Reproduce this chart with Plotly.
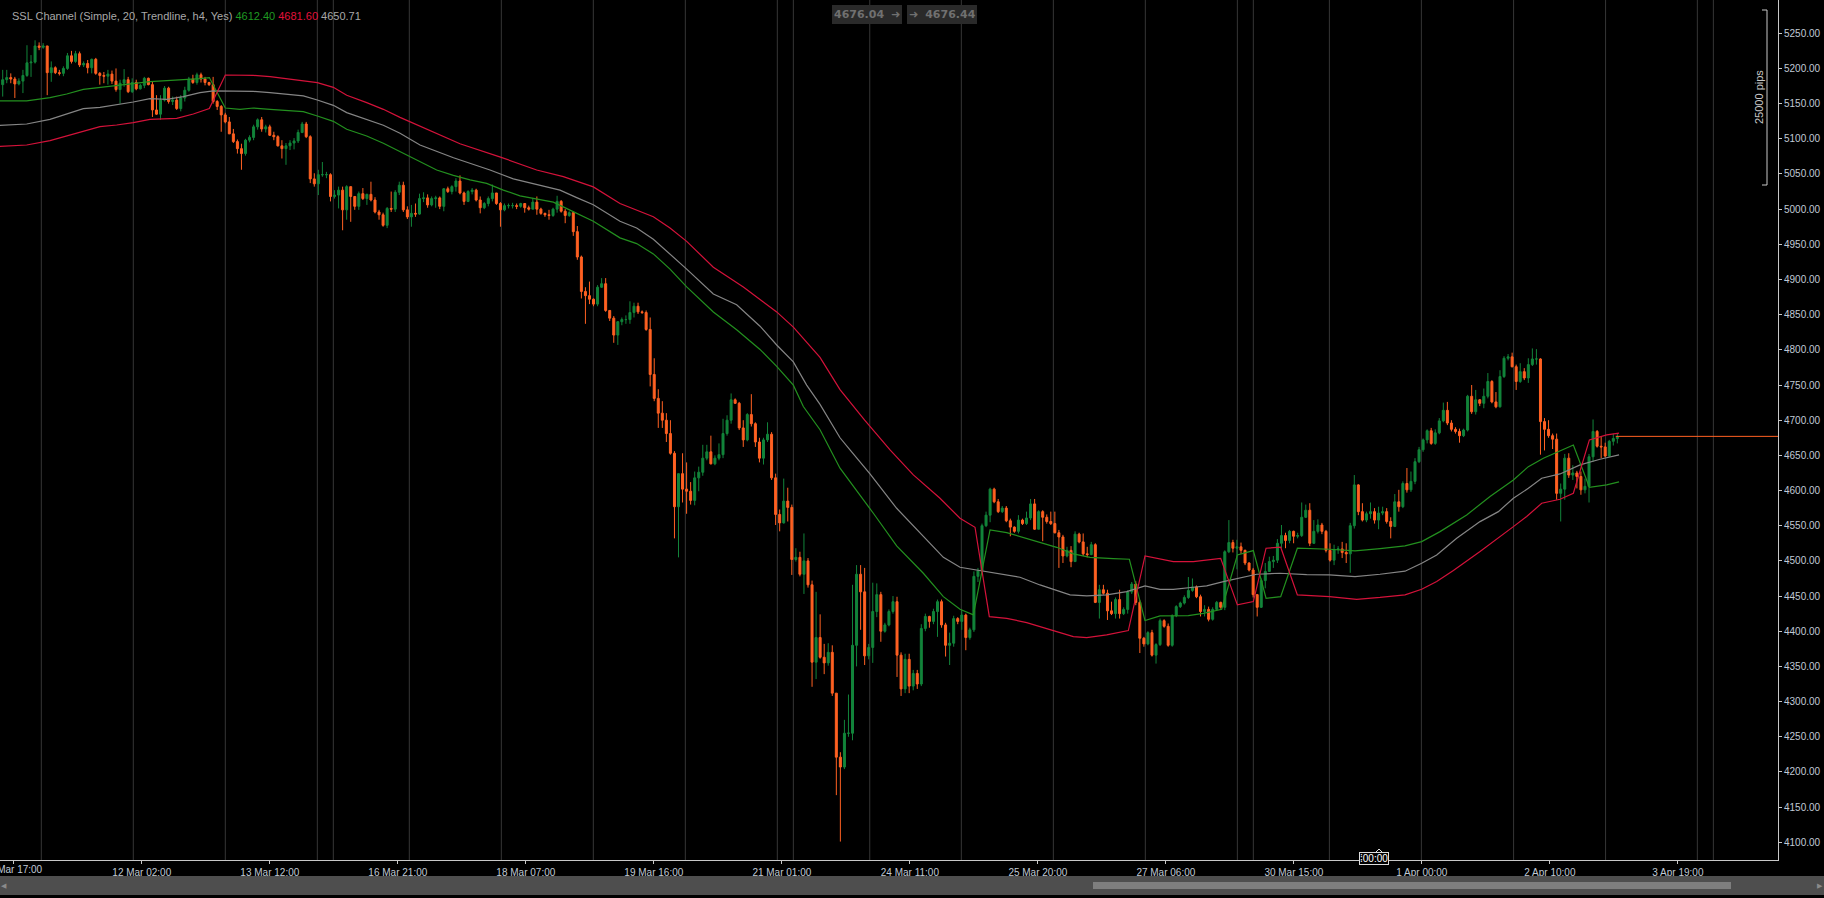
import plotly.graph_objects as go

# ---------------- data ----------------
open0 = 5177
close = [
5184,5187,5185,5178,5182,5190,5208,5209,5232,5230,
5232,5194,5201,5194,5193,5200,5218,5210,5221,5205,
5207,5201,5213,5193,5190,5189,5192,5182,5170,5179,
5184,5167,5180,5171,5176,5186,5177,5141,5135,5155,
5172,5153,5155,5143,5158,5169,5185,5180,5191,5185,
5180,5177,5153,5146,5134,5124,5107,5096,5086,5079,
5098,5102,5117,5127,5114,5117,5105,5103,5090,5086,
5090,5094,5097,5109,5121,5103,5043,5036,5049,5049,
5049,5018,5020,5027,4999,5032,5018,5004,5022,5015,
5021,5013,4996,4992,4977,5001,5000,5024,5034,4999,
4989,4994,4993,5015,5016,5006,5015,5016,5004,5029,
5025,5032,5040,5023,5011,5025,5027,5013,5002,5008,
5015,5023,5008,4999,5005,5005,5005,5004,5008,5002,
5000,5010,5000,4994,4992,4991,5000,5011,4997,4991,
4995,4968,4932,4883,4877,4872,4865,4889,4894,4856,
4845,4821,4840,4843,4843,4853,4862,4854,4853,4829,
4765,4731,4710,4700,4681,4653,4577,4624,4602,4599,
4586,4618,4626,4646,4655,4638,4646,4651,4681,4700,
4729,4724,4689,4672,4708,4695,4669,4646,4672,4680,
4618,4566,4554,4585,4576,4502,4505,4481,4500,4466,
4356,4391,4363,4355,4370,4312,4221,4207,4255,4255,
4380,4481,4456,4365,4377,4428,4452,4400,4409,4428,
4442,4366,4318,4360,4322,4340,4325,4404,4421,4414,
4428,4442,4409,4380,4383,4418,4414,4423,4391,4402,
4478,4486,4550,4565,4602,4584,4570,4575,4557,4548,
4542,4558,4553,4561,4581,4545,4570,4562,4556,4553,
4540,4534,4507,4515,4499,4538,4527,4510,4509,4523,
4441,4459,4454,4429,4425,4445,4425,4431,4456,4467,
4441,4390,4382,4398,4366,4381,4415,4407,4380,4422,
4435,4440,4448,4458,4463,4449,4428,4431,4417,4431,
4441,4434,4513,4526,4518,4520,4515,4497,4487,4452,
4434,4472,4485,4499,4501,4525,4536,4529,4542,4535,
4536,4562,4572,4525,4542,4551,4542,4515,4501,4516,
4517,4512,4510,4550,4608,4570,4558,4567,4570,4558,
4568,4570,4556,4549,4584,4577,4610,4601,4613,4641,
4658,4672,4685,4667,4682,4699,4714,4696,4687,4684,
4678,4686,4734,4712,4729,4724,4734,4755,4726,4719,
4762,4788,4790,4776,4755,4769,4760,4779,4787,4787,
4698,4687,4678,4673,4596,4602,4646,4622,4625,4620,
4601,4606,4648,4684,4663,4662,4649,4670,4674,4676]

high = [
5198,5198,5193,5188,5186,5198,5233,5219,5240,5237,
5236,5232,5210,5203,5198,5203,5222,5225,5225,5224,
5210,5212,5214,5215,5195,5195,5198,5197,5200,5184,
5199,5188,5186,5184,5178,5188,5187,5181,5162,5162,
5175,5174,5160,5160,5162,5174,5188,5191,5194,5194,
5188,5181,5188,5155,5148,5137,5131,5114,5099,5093,
5100,5105,5120,5129,5131,5120,5120,5110,5105,5098,
5094,5098,5101,5113,5124,5124,5105,5051,5056,5067,
5053,5051,5027,5032,5032,5034,5027,5018,5025,5030,
5022,5039,5017,4999,4995,5003,5025,5027,5039,5039,
5004,5006,5008,5022,5024,5021,5018,5019,5018,5030,
5032,5034,5044,5048,5025,5027,5030,5029,5018,5010,
5018,5035,5021,5010,5008,5008,5009,5008,5009,5008,
5005,5016,5018,5002,4995,4999,5002,5019,5013,5000,
4997,4997,4976,4934,4889,4897,4873,4892,4902,4902,
4856,4848,4841,4846,4849,4869,4867,4867,4856,4856,
4846,4788,4744,4727,4710,4700,4656,4624,4653,4640,
4612,4627,4634,4665,4665,4678,4650,4667,4702,4707,
4738,4731,4726,4700,4710,4737,4697,4675,4675,4697,
4683,4624,4573,4617,4604,4580,4518,4513,4539,4504,
4472,4456,4424,4382,4383,4380,4312,4228,4274,4310,
4466,4494,4494,4490,4382,4469,4468,4456,4412,4431,
4450,4449,4370,4368,4368,4345,4345,4410,4425,4422,
4432,4445,4445,4412,4398,4422,4420,4430,4425,4405,
4485,4490,4553,4570,4604,4604,4588,4578,4578,4560,
4549,4565,4560,4570,4588,4588,4572,4572,4566,4570,
4570,4544,4537,4520,4521,4542,4540,4539,4520,4527,
4525,4466,4466,4459,4442,4448,4459,4434,4458,4470,
4471,4444,4392,4400,4402,4383,4418,4417,4411,4424,
4437,4442,4451,4477,4475,4465,4452,4437,4435,4434,
4443,4442,4515,4558,4530,4530,4526,4516,4498,4490,
4453,4475,4497,4506,4507,4531,4551,4540,4544,4543,
4540,4583,4580,4582,4558,4559,4554,4544,4525,4523,
4521,4527,4525,4554,4622,4609,4582,4570,4583,4575,
4577,4577,4575,4562,4595,4601,4613,4632,4627,4646,
4662,4674,4687,4689,4687,4703,4725,4726,4700,4690,
4688,4688,4736,4750,4743,4730,4745,4767,4757,4740,
4771,4791,4794,4796,4779,4781,4774,4788,4802,4801,
4788,4703,4700,4681,4681,4610,4652,4653,4636,4628,
4627,4617,4652,4701,4686,4677,4668,4672,4681,4681]

low = [
5160,5179,5179,5158,5176,5165,5188,5188,5207,5226,
5228,5162,5181,5192,5190,5189,5198,5207,5208,5202,
5202,5193,5193,5191,5177,5179,5177,5178,5167,5150,
5174,5165,5165,5169,5170,5172,5176,5131,5134,5127,
5153,5150,5148,5141,5139,5153,5167,5178,5177,5180,
5176,5175,5150,5141,5110,5122,5107,5094,5079,5056,
5076,5095,5098,5113,5110,5109,5104,5098,5089,5072,
5063,5084,5085,5094,5108,5101,5037,5032,5020,5046,
5044,5011,5015,5001,4970,4985,4982,4999,4999,5013,
5006,5011,4994,4985,4975,4973,4996,4996,5020,4996,
4986,4975,4989,4992,5010,5002,5004,5002,5000,4997,
5023,5021,5025,5021,5006,5010,5021,5011,4994,5000,
5004,5011,5006,4975,4997,5001,5001,5000,5002,4995,
4998,5004,4992,4992,4989,4985,4989,4995,4995,4980,
4989,4962,4928,4873,4837,4865,4862,4862,4888,4854,
4841,4810,4807,4835,4837,4837,4846,4851,4851,4827,
4748,4727,4689,4689,4669,4651,4532,4505,4583,4567,
4580,4579,4599,4621,4643,4637,4636,4643,4646,4678,
4695,4723,4686,4662,4670,4691,4662,4640,4637,4669,
4615,4551,4542,4553,4556,4480,4499,4478,4453,4462,
4321,4332,4361,4339,4351,4308,4167,4101,4204,4250,
4245,4350,4402,4352,4360,4355,4420,4385,4398,4407,
4425,4335,4308,4312,4312,4316,4318,4322,4400,4405,
4410,4392,4405,4364,4352,4378,4410,4402,4373,4388,
4399,4470,4480,4548,4555,4582,4568,4568,4555,4535,
4540,4539,4551,4551,4558,4544,4545,4528,4553,4551,
4539,4490,4497,4505,4491,4501,4525,4507,4505,4508,
4440,4418,4452,4416,4423,4418,4418,4423,4425,4453,
4437,4369,4378,4380,4364,4354,4379,4405,4378,4378,
4420,4433,4438,4446,4456,4447,4421,4421,4414,4415,
4430,4432,4430,4511,4512,4488,4510,4494,4485,4448,
4421,4433,4461,4487,4490,4497,4518,4518,4525,4525,
4532,4534,4561,4521,4524,4539,4538,4512,4499,4494,
4510,4504,4497,4483,4546,4565,4556,4555,4560,4553,
4545,4565,4553,4532,4548,4570,4575,4597,4598,4609,
4639,4655,4667,4665,4665,4680,4697,4693,4684,4681,
4668,4676,4684,4709,4708,4720,4717,4731,4724,4717,
4718,4760,4785,4775,4743,4753,4757,4753,4777,4779,
4651,4657,4675,4659,4587,4556,4587,4618,4615,4603,
4594,4596,4583,4641,4661,4646,4647,4648,4664,4667]

# SSL channel lines (h4 values placed on the candle index axis)
ssl_green_x = [-0.67,5.93,11.69,15.82,19.92,24.04,28.17,32.27,36.40,40.53,44.63,48.76,51.06,55.01,58.64,61.93,66.06,70.18,74.29,77.75,81.70,85.01,89.95,94.06,98.18,103.12,107.24,111.36,115.48,119.59,123.71,127.83,131.95,136.07,140.19,145.95,152.54,156.66,160.78,164.90,169.02,175.61,181.37,187.14,191.26,195.38,197.85,201.97,206.91,211.03,215.15,220.91,227.50,232.45,236.56,239.86,243.98,248.10,252.21,256.33,260.45,264.57,268.69,274.45,278.41,282.28,285.99,292.99,296.70,301.23,305.10,309.05,312.19,315.81,319.93,327.84,334.18,340.36,346.53,350.65,355.18,361.77,367.54,373.31,377.01,380.72,388.13,392.09,396.37,399.42]
ssl_green_y = [5153.8,5153.8,5158.5,5163.7,5170.3,5173.2,5175.1,5178,5181.2,5182.7,5183.6,5185.5,5187,5143.8,5141.9,5143.8,5141.9,5140,5138.6,5132.4,5124.8,5113.5,5104,5093.6,5081.7,5067.5,5055.7,5048.1,5041.7,5036.7,5027.1,5018.9,5014.5,5010,4998.6,4982.7,4959.2,4951,4936.4,4914.8,4889.4,4853.9,4828.5,4800.6,4776.5,4749.8,4719.4,4686.4,4631.7,4599.9,4567.7,4521.2,4482.4,4449.2,4431.2,4423.2,4544,4540.2,4533.6,4526,4519.3,4509.9,4505.1,4503.2,4502.3,4415.1,4421.7,4422.2,4425.5,4431.2,4508.4,4514.6,4446.9,4449.2,4518,4516.5,4514.2,4517.5,4521.3,4527.4,4541.6,4565.3,4591.4,4615.1,4634,4645.9,4664.8,4604.7,4608,4612.4]

ssl_red_x = [-0.67,5.93,11.69,15.82,19.92,24.04,28.17,32.27,36.40,40.53,43.0,47.1,51.06,55.01,61.93,66.06,70.18,74.29,77.75,81.70,85.01,89.95,94.06,98.18,103.12,113.0,123.0,131.95,138.54,145.95,152.54,156.66,160.78,164.90,169.02,175.61,183.02,187.14,191.26,195.38,201.97,206.91,213.0,219.27,225.03,231.62,236.56,240.27,243.81,248.10,253.04,259.63,264.57,267.87,272.81,278.16,282.28,289.28,294.22,300.98,305.10,309.05,312.19,315.81,319.93,327.84,334.59,340.36,346.53,350.65,354.36,358.48,365.07,373.31,376.60,380.31,384.84,388.13,392.09,396.37,399.42]
ssl_red_y = [5089.3,5091.2,5097.4,5104,5111.6,5117.3,5119.6,5123,5127.7,5129.1,5129.1,5135.3,5142.9,5190.7,5190.2,5188.4,5185.5,5182.7,5179.8,5173.2,5161.8,5151.4,5141.9,5130.5,5118.2,5093,5074,5055.7,5046.2,5031.6,5008.1,4998.6,4989.1,4973.2,4954.2,4917.4,4889.4,4871.7,4853.9,4832.3,4789.2,4743.5,4700,4657.7,4622.2,4589,4560.6,4547.8,4420.8,4418.4,4412.3,4400.9,4392.4,4391,4394.7,4400.9,4507,4499,4499,4503.7,4437.4,4442.1,4518,4519.4,4451.6,4449.2,4445.4,4448,4451.6,4459.7,4470.6,4486.2,4513.2,4548.7,4563,4581.9,4587.6,4596.1,4671.9,4679,4681.6]

ssl_mid_x = [-0.67,5.93,11.69,15.82,19.92,24.04,28.17,32.27,36.40,40.53,44.63,48.76,52.05,55.01,58.64,61.93,66.06,70.18,74.29,77.75,81.70,85.01,89.95,94.06,98.18,103.12,111.4,120.42,126.18,131.95,137.72,141.84,145.95,152.54,156.66,160.78,164.90,169.02,175.61,181.37,187.14,191.26,195.38,198.67,201.97,206.91,209.38,214.32,220.91,226.68,232.45,236.56,241.51,246.45,251.39,256.33,259.63,263.75,267.87,272.81,277.75,282.28,285.99,289.28,294.22,297.52,301.64,305.76,309.88,315.64,322.23,327.84,334.18,340.36,346.53,350.65,354.36,359.30,365.07,369.60,373.31,377.01,380.31,384.84,389.78,394.72,399.42]
ssl_mid_y = [5119.2,5121,5127.7,5135.3,5142.9,5144.8,5148.1,5152.3,5157.1,5156.1,5159.9,5165.6,5168,5168,5167,5167.5,5165.6,5163.7,5160.9,5155.2,5147.6,5137.2,5127.7,5119.2,5107.8,5091.2,5073,5055.7,5043,5035.4,5027.1,5016.4,5006.2,4982.7,4973.2,4957.3,4936.4,4914.8,4879.3,4864,4833.6,4806.9,4782.8,4749.8,4722.5,4675,4657.7,4623.6,4574.8,4539.2,4505.1,4490.9,4486.2,4482.4,4476.7,4465.8,4459.6,4451.6,4450.2,4451.6,4456.3,4464.4,4459.6,4459.6,4462.5,4464.4,4470.5,4475.3,4481,4482.4,4480.5,4480,4477.7,4481,4485.3,4496.6,4508.5,4532.2,4555.8,4570,4589,4603.2,4617.5,4623.6,4636.4,4644.5,4650.7]

# period separators (candle index positions) and time-axis labels
separator_idx = [9.54,32.27,55.01,77.75,81.70,100.48,123.22,145.95,168.69,191.42,195.38,214.26,236.89,259.63,282.36,305.10,309.05,327.84,350.57,373.36,396.09,418.77,422.73]
tick_idx = [2.74,34.37,66.01,97.64,129.27,160.90,192.54,224.17,255.80,287.43,319.06,350.69,382.33,413.96]
tick_text = ["11 Mar 17:00","12 Mar 02:00","13 Mar 12:00","16 Mar 21:00","18 Mar 07:00","19 Mar 16:00",
             "21 Mar 01:00","24 Mar 11:00","25 Mar 20:00","27 Mar 06:00","30 Mar 15:00","1 Apr 00:00",
             "2 Apr 10:00","3 Apr 19:00"]
last_price = 4677
legend_vals = ["4612.40", "4681.60", "4650.71"]
bid_ask = ["4676.04", "4676.44"]

# ---------------- figure ----------------
W, H = 1824, 898
PL, PR, PT, PB = 0, 46, 0, 38
plot_w = W - PL - PR
plot_h = H - PT - PB
X_RANGE = [-0.667, 438.7]
def px(x):  # pixel x -> paper
    return (x - PL) / plot_w
def py(y):  # pixel y -> paper
    return (PT + plot_h - y) / plot_h
def ix(i):  # candle index -> paper
    return (i - X_RANGE[0]) / (X_RANGE[1] - X_RANGE[0])

GREEN_C = "#12843a"
ORANGE_C = "#ff6122"
AX_COLOR = "#c0cad6"

idx = list(range(len(close)))
opens = [open0] + close[:-1]
hi = [max(h, o, c) for h, o, c in zip(high, opens, close)]
lo = [min(l, o, c) for l, o, c in zip(low, opens, close)]

fig = go.Figure()
fig.add_trace(go.Scatter(x=ssl_mid_x, y=ssl_mid_y, mode="lines",
                         line=dict(color="#858585", width=1.2), hoverinfo="skip"))
fig.add_trace(go.Scatter(x=ssl_green_x, y=ssl_green_y, mode="lines",
                         line=dict(color="#23901f", width=1.2), hoverinfo="skip"))
fig.add_trace(go.Scatter(x=ssl_red_x, y=ssl_red_y, mode="lines",
                         line=dict(color="#d4123a", width=1.2), hoverinfo="skip"))
fig.add_trace(go.Candlestick(
    x=idx, open=opens, high=hi, low=lo, close=close,
    increasing=dict(line=dict(color=GREEN_C, width=1), fillcolor=GREEN_C),
    decreasing=dict(line=dict(color=ORANGE_C, width=1), fillcolor=ORANGE_C),
    whiskerwidth=0, hoverinfo="skip"))
fig.add_trace(go.Scatter(x=[idx[-1] - 0.4, X_RANGE[1]], y=[last_price, last_price], mode="lines",
                         line=dict(color=ORANGE_C, width=1), hoverinfo="skip"))

shapes = []
for g in separator_idx:
    shapes.append(dict(type="line", xref="x", yref="paper", x0=g, x1=g, y0=0, y1=1,
                       line=dict(color="#363636", width=1), layer="below"))
# bid / ask boxes
shapes.append(dict(type="rect", xref="paper", yref="paper", x0=px(832), x1=px(902), y0=py(24), y1=py(5),
                   fillcolor="#2a2a2a", line=dict(width=0), layer="above"))
shapes.append(dict(type="rect", xref="paper", yref="paper", x0=px(907), x1=px(977), y0=py(24), y1=py(5),
                   fillcolor="#2a2a2a", line=dict(width=0), layer="above"))
# pips bracket
BR = "#c8c8c8"
shapes.append(dict(type="line", xref="paper", yref="paper", x0=px(1767), x1=px(1767), y0=py(10), y1=py(185),
                   line=dict(color=BR, width=1)))
shapes.append(dict(type="line", xref="paper", yref="paper", x0=px(1762), x1=px(1767), y0=py(10), y1=py(10),
                   line=dict(color=BR, width=1)))
shapes.append(dict(type="line", xref="paper", yref="paper", x0=px(1762), x1=px(1767), y0=py(185), y1=py(185),
                   line=dict(color=BR, width=1)))
# scrollbar
shapes.append(dict(type="rect", xref="paper", yref="paper", x0=px(-2), x1=px(1826), y0=py(895), y1=py(876),
                   fillcolor="#4e4e4e", line=dict(width=0), layer="above"))
shapes.append(dict(type="rect", xref="paper", yref="paper", x0=px(1093), x1=px(1731), y0=py(889), y1=py(882),
                   fillcolor="#7e7e7e", line=dict(width=0), layer="above"))
# time cursor marker pointer
shapes.append(dict(type="path", xref="paper", yref="paper",
                   path=f"M {px(1375)} {py(853)} L {px(1379)} {py(849)} L {px(1383)} {py(853)} Z",
                   fillcolor="#000000", line=dict(color="#dddddd", width=1), layer="above"))

AX_FONT = dict(family="Liberation Sans, Arial, sans-serif", size=10, color=AX_COLOR)

annotations = [
    dict(xref="paper", yref="paper", x=px(10), y=py(16), xanchor="left", yanchor="middle", showarrow=False,
         text=("SSL Channel (Simple, 20, Trendline, h4, Yes) "
               f"<span style='color:#1f9a22'>{legend_vals[0]}</span> "
               f"<span style='color:#e3103a'>{legend_vals[1]}</span> "
               f"{legend_vals[2]}"),
         font=dict(family="Liberation Sans, Arial, sans-serif", size=11, color="#a8a8a8")),
    dict(xref="paper", yref="paper", x=px(867), y=py(14.5), xanchor="center", yanchor="middle", showarrow=False,
         text=f"<b>{bid_ask[0]}</b>  ➜", font=dict(family="DejaVu Sans, sans-serif", size=11, color="#707070")),
    dict(xref="paper", yref="paper", x=px(942), y=py(14.5), xanchor="center", yanchor="middle", showarrow=False,
         text=f"➜  <b>{bid_ask[1]}</b>", font=dict(family="DejaVu Sans, sans-serif", size=11, color="#707070")),
    dict(xref="paper", yref="paper", x=px(1759), y=py(97), xanchor="center", yanchor="middle", showarrow=False,
         text="25000 pips", textangle=-90,
         font=dict(family="Liberation Sans, Arial, sans-serif", size=11, color="#c8c8c8")),
    dict(xref="paper", yref="paper", x=px(1374), y=py(858.5), xanchor="center", yanchor="middle", showarrow=False,
         text="⁞00:00", bgcolor="#000000", bordercolor="#dddddd", borderwidth=1, borderpad=0,
         font=dict(family="Liberation Sans, sans-serif", size=10, color="#ffffff")),
    dict(xref="paper", yref="paper", x=px(4), y=py(885.5), xanchor="center", yanchor="middle", showarrow=False,
         text="◀", font=dict(size=7, color="#8a8a8a")),
    dict(xref="paper", yref="paper", x=px(1820), y=py(885.5), xanchor="center", yanchor="middle", showarrow=False,
         text="▶", font=dict(size=7, color="#8a8a8a")),
    # first time label, cut by the left edge of the page as in the original
    dict(xref="paper", yref="paper", x=ix(tick_idx[0]), y=py(869.5), xanchor="center", yanchor="middle",
         showarrow=False, text=tick_text[0], font=AX_FONT),
]

fig.update_layout(
    width=W, height=H, margin=dict(l=PL, r=PR, t=PT, b=PB),
    paper_bgcolor="#000000", plot_bgcolor="#000000",
    showlegend=False, hovermode=False,
    shapes=shapes, annotations=annotations,
    xaxis=dict(range=X_RANGE, showgrid=False, zeroline=False, rangeslider=dict(visible=False),
               tickmode="array", tickvals=tick_idx, ticktext=[""] + tick_text[1:],
               ticks="outside", ticklen=3, tickcolor="#c8c8c8",
               showline=True, linecolor="#c8c8c8", linewidth=1,
               tickfont=AX_FONT, fixedrange=True, automargin=False),
    yaxis=dict(range=[4074.8, 5297.3], side="right", showgrid=False, zeroline=False,
               tickmode="linear", tick0=4100, dtick=50, tickformat=".2f",
               ticks="outside", ticklen=3, tickcolor="#c8c8c8",
               showline=True, linecolor="#c8c8c8", linewidth=1,
               tickfont=AX_FONT, fixedrange=True, automargin=False),
)

fig.write_html("out.html", config={"displayModeBar": False},
               post_script="document.body.style.margin='0';document.body.style.overflow='hidden';")
